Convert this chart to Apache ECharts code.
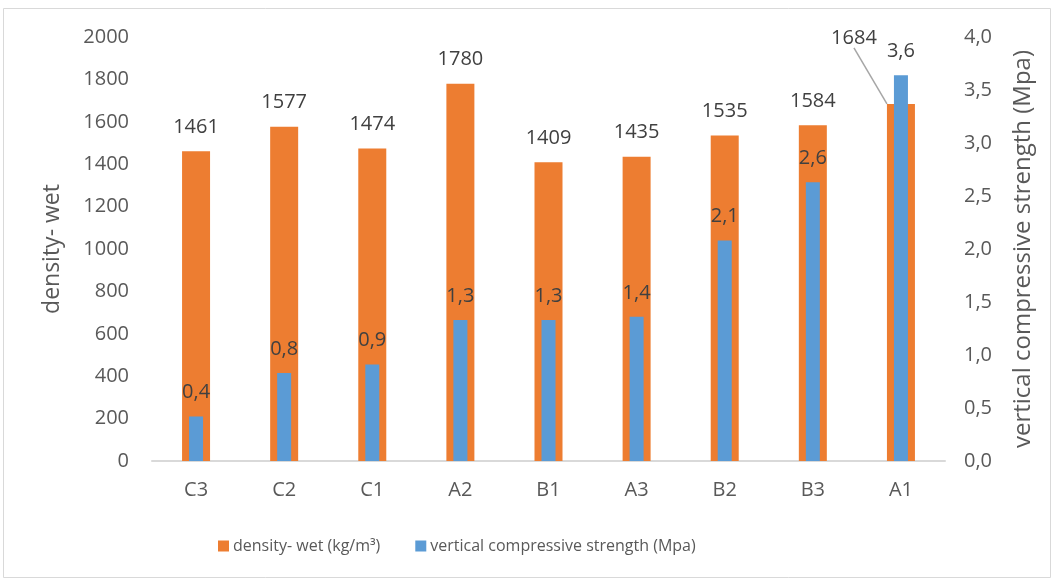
<!DOCTYPE html>
<html>
<head>
<meta charset="utf-8">
<script src="https://cdn.jsdelivr.net/npm/echarts@6/dist/echarts.min.js"></script>
<style>
  html, body { margin: 0; padding: 0; background: #ffffff; }
  #chart { width: 1062px; height: 581px; }
</style>
</head>
<body>
<div id="chart"></div>
<script>
// Sample codes along the x axis
const categories = ['C3', 'C2', 'C1', 'A2', 'B1', 'A3', 'B2', 'B3', 'A1'];
// Wet density, kg/m³ (left axis)
const densityWet = [1461, 1577, 1474, 1780, 1409, 1435, 1535, 1584, 1684];
// Vertical compressive strength, MPa (right axis)
const compressiveStrength = [0.42, 0.83, 0.91, 1.33, 1.33, 1.36, 2.08, 2.63, 3.64];

const densityName = 'density- wet (kg/m³)';
const strengthName = 'vertical compressive strength (Mpa)';

const FONT = '"Open Sans", "Noto Sans", sans-serif';
const TEXT_GREY = '#595959';
const LABEL_GREY = '#404040';

const commaDecimal = v => Number(v).toFixed(1).replace('.', ',');
const lastIndex = densityWet.length - 1;

// only the last density label gets a leader line (it is moved aside)
const densityData = densityWet.map((v, i) => (
  i === lastIndex ? { value: v, labelLine: { show: true } } : { value: v }
));

const chart = echarts.init(document.getElementById('chart'));

chart.setOption({
  backgroundColor: '#ffffff',
  animation: false,
  textStyle: { fontFamily: FONT },
  graphic: [{
    type: 'rect',
    shape: { x: 3.5, y: 8.5, width: 1047, height: 569 },
    style: { fill: 'none', stroke: '#d9d9d9', lineWidth: 1 },
    silent: true
  }],
  grid: { left: 152, right: 117, top: 37, bottom: 120 },
  legend: {
    left: 213,
    top: 533,
    itemWidth: 11,
    itemHeight: 11,
    itemGap: 35,
    icon: 'rect',
    textStyle: { fontFamily: FONT, fontSize: 16, color: TEXT_GREY, padding: [0, 0, 0, -1] },
    data: [densityName, strengthName]
  },
  xAxis: [{
    type: 'category',
    data: categories,
    axisLine: { show: true, lineStyle: { color: '#d9d9d9', width: 2 } },
    axisTick: { show: false },
    axisLabel: { fontFamily: FONT, fontSize: 20, color: TEXT_GREY, margin: 19 }
  }, {
    type: 'category',
    data: categories,
    show: false
  }],
  yAxis: [{
    type: 'value',
    min: 0, max: 2000, interval: 200,
    name: 'density- wet',
    nameLocation: 'middle',
    nameGap: 88,
    nameTextStyle: { fontFamily: FONT, fontSize: 23, color: TEXT_GREY },
    axisLine: { show: false },
    axisTick: { show: false },
    splitLine: { show: false },
    axisLabel: { fontFamily: FONT, fontSize: 20, color: TEXT_GREY, margin: 23, formatter: v => String(v) }
  }, {
    type: 'value',
    min: 0, max: 4, interval: 0.5,
    name: strengthName,
    nameLocation: 'middle',
    nameGap: 66,
    nameRotate: 90,
    nameTextStyle: { fontFamily: FONT, fontSize: 24, color: TEXT_GREY, padding: [0, 0, 24, 0] },
    axisLine: { show: false },
    axisTick: { show: false },
    splitLine: { show: false },
    axisLabel: { fontFamily: FONT, fontSize: 20, color: TEXT_GREY, margin: 19, formatter: commaDecimal }
  }],
  series: [{
    name: densityName,
    type: 'bar',
    xAxisIndex: 0,
    yAxisIndex: 0,
    data: densityData,
    barWidth: 28,
    itemStyle: { color: '#ED7D31' },
    label: {
      show: true,
      position: 'top',
      distance: 14,
      fontFamily: FONT,
      fontSize: 20,
      color: LABEL_GREY
    },
    labelLine: { show: false, lineStyle: { color: '#a6a6a6', width: 1.5 } },
    labelLayout: function (params) {
      // last label is pulled up and left, away from the tall strength bar
      if (params.dataIndex === lastIndex) {
        return { dx: -47, dy: -42 };
      }
      return {};
    },
    z: 2
  }, {
    name: strengthName,
    type: 'bar',
    xAxisIndex: 1,
    yAxisIndex: 1,
    data: compressiveStrength,
    barWidth: 14,
    itemStyle: { color: '#5B9BD5' },
    label: {
      show: true,
      position: 'top',
      distance: 14,
      fontFamily: FONT,
      fontSize: 20,
      color: LABEL_GREY,
      formatter: p => commaDecimal(p.value)
    },
    z: 3
  }]
});
</script>
</body>
</html>
